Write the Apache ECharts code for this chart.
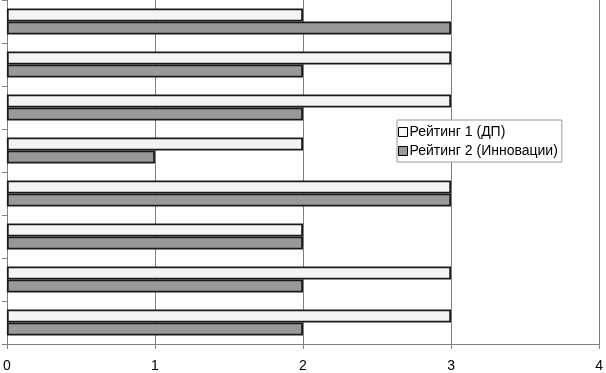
<!DOCTYPE html>
<html><head><meta charset="utf-8">
<script src="https://cdn.jsdelivr.net/npm/echarts@6/dist/echarts.min.js"></script>
<style>html,body{margin:0;padding:0;background:#fff}#c{width:606px;height:373px}</style>
</head><body><div id="c"></div>
<script>
const categories = ['1','2','3','4','5','6','7','8'];
const rating1 = [2,3,3,2,3,2,3,3];
const rating2 = [3,2,2,1,3,2,2,2];
const xTicks = [0,1,2,3,4];
const seriesNames = ['Рейтинг 1 (ДП)','Рейтинг 2 (Инновации)'];

const chart = echarts.init(document.getElementById('c'));
chart.setOption({
  animation:false,
  textStyle:{fontFamily:'Liberation Sans, Arial, sans-serif'},
  grid:{left:5,right:4,top:0,bottom:25,containLabel:false},
  legend:{
    orient:'vertical', left:397, top:120,
    backgroundColor:'#fff', borderColor:'#999', borderWidth:1,
    padding:[5,4,4,1], itemGap:5, itemWidth:9, itemHeight:9,
    icon:'rect',
    itemStyle:{borderColor:'#000',borderWidth:1},
    textStyle:{fontSize:14,color:'#000',padding:[0,0,0,-3],fontFamily:'Liberation Sans, Arial, sans-serif'},
    data:seriesNames
  },
  xAxis:{
    type:'value', min:xTicks[0], max:xTicks[xTicks.length-1], interval:1,
    axisLine:{show:true,lineStyle:{color:'#808080'}},
    axisTick:{show:true,length:5,lineStyle:{color:'#808080'}},
    axisLabel:{fontSize:14,color:'#000',margin:15},
    splitLine:{show:true,lineStyle:{color:'#808080',width:1}}
  },
  yAxis:{
    type:'category', data:categories, inverse:true,
    axisLine:{show:true,lineStyle:{color:'#808080'}},
    axisTick:{show:true,length:5,inside:false,lineStyle:{color:'#808080'}},
    axisLabel:{show:false},
    splitLine:{show:false}
  },
  series:[
    {name:seriesNames[0],type:'bar',data:rating1,barWidth:13,barGap:'0%',
     itemStyle:{color:'#f4f4f4',borderColor:'#1a1a1a',borderWidth:1.8}},
    {name:seriesNames[1],type:'bar',data:rating2,barWidth:13,barGap:'0%',
     itemStyle:{color:'#999999',borderColor:'#1a1a1a',borderWidth:1.8}}
  ]
});
</script></body></html>
